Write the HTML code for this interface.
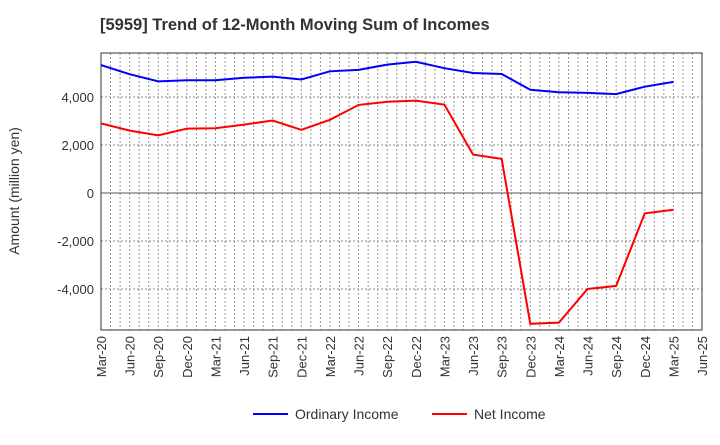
<!DOCTYPE html>
<html><head><meta charset="utf-8"><style>
body{margin:0;background:#fff;font-family:"Liberation Sans",sans-serif;}
</style></head><body>
<svg id="c" width="720" height="440" xmlns="http://www.w3.org/2000/svg">
<text x="100" y="30" font-size="16.5" font-weight="bold" fill="#333">[5959]  Trend of 12-Month Moving Sum of Incomes</text>
<g id="grid"></g><g id="ax"></g><g id="series"></g>
<text transform="translate(19,191) rotate(-90)" text-anchor="middle" font-size="14" fill="#333">Amount (million yen)</text>
<g>
<line x1="253" y1="414" x2="288" y2="414" stroke="#0000ff" stroke-width="2"/>
<text x="295" y="419" font-size="14" fill="#333">Ordinary Income</text>
<line x1="432" y1="414" x2="467" y2="414" stroke="#ff0000" stroke-width="2"/>
<text x="474" y="419" font-size="14" fill="#333">Net Income</text>
</g>
</svg>
<script>
const categories=["Mar-20","Jun-20","Sep-20","Dec-20","Mar-21","Jun-21","Sep-21","Dec-21","Mar-22","Jun-22","Sep-22","Dec-22","Mar-23","Jun-23","Sep-23","Dec-23","Mar-24","Jun-24","Sep-24","Dec-24","Mar-25","Jun-25"];
const ordinaryIncome=[5330,4950,4650,4700,4700,4800,4850,4730,5070,5130,5350,5470,5200,5000,4960,4300,4200,4170,4120,4430,4630];
const netIncome=[2900,2600,2400,2680,2700,2850,3020,2630,3050,3670,3800,3850,3680,1600,1420,-5450,-5400,-4000,-3870,-850,-700];
const yTicks=[-4000,-2000,0,2000,4000];
const yTickLabels=["-4,000","-2,000","0","2,000","4,000"];
const L=101,R=702,T=53,B=330,yMin=-5708,yMax=5833;
const NS="http://www.w3.org/2000/svg";
function X(i){return L+i*(R-L)/21;}
function Y(v){return B-(v-yMin)/(yMax-yMin)*(B-T);}
function el(t,a,p){const e=document.createElementNS(NS,t);for(const k in a)e.setAttribute(k,a[k]);p.appendChild(e);return e;}
const g=document.getElementById('grid'),ax=document.getElementById('ax'),s=document.getElementById('series');
for(let m=1;m<63;m++){const x=L+m*(R-L)/63;const ln=el('line',{x1:x,y1:T,x2:x,y2:B,stroke:'#999','stroke-dasharray':'2,2','stroke-width':1},g);

}
yTicks.forEach((v,i)=>{const y=Y(v);const ln=el('line',{x1:L,y1:y,x2:R,y2:y,stroke:v===0?'#555':'#888','stroke-dasharray':v===0?'':'2,2','stroke-width':1},g);


const t=el('text',{x:L-7,y:y+5,'text-anchor':'end','font-size':13,fill:'#333'},ax);t.textContent=yTickLabels[i];

});
const fr=el('rect',{x:L,y:T,width:R-L,height:B-T,fill:'none',stroke:'#333','stroke-width':1},ax);


categories.forEach((c,i)=>{const x=X(i);const t=el('text',{transform:`translate(${x+5},${B+6}) rotate(-90)`,'text-anchor':'end','font-size':13,fill:'#333'},ax);t.textContent=c;

});
function line(d,col,name){const p=el('polyline',{points:d.map((v,i)=>X(i)+','+Y(v)).join(' '),fill:'none',stroke:col,'stroke-width':2},s);

}
line(ordinaryIncome,'#0000ff','ordinary-income-line');
line(netIncome,'#ff0000','net-income-line');
</script>
</body></html>
